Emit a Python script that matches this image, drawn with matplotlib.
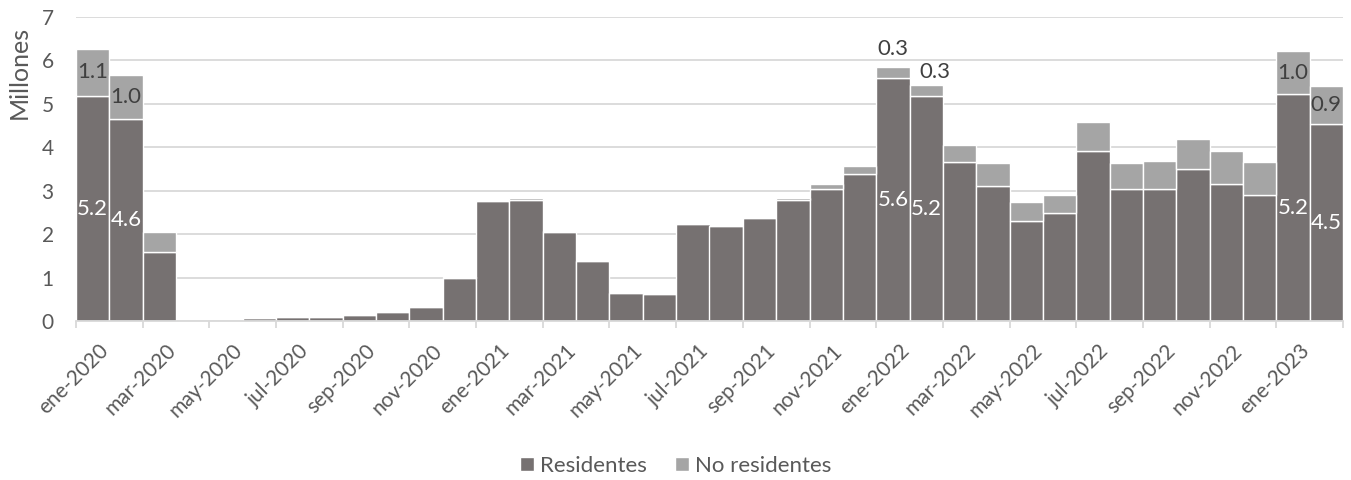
import numpy as np
import matplotlib.pyplot as plt
from matplotlib.transforms import ScaledTranslation

plt.rcParams['font.family'] = ['Lato', 'DejaVu Sans']

meses = ["ene", "feb", "mar", "abr", "may", "jun", "jul", "ago", "sep", "oct", "nov", "dic"]
periodos = [f"{m}-{a}" for a in (2020, 2021, 2022, 2023) for m in meses][:38]

residentes = [5.18, 4.64, 1.58, 0.0, 0.0, 0.06, 0.09, 0.09, 0.14, 0.20, 0.32, 0.98,
              2.77, 2.79, 2.05, 1.38, 0.65, 0.62, 2.23, 2.19, 2.37, 2.78, 3.03, 3.38,
              5.59, 5.18, 3.66, 3.12, 2.31, 2.48, 3.91, 3.05, 3.05, 3.51, 3.15, 2.90,
              5.22, 4.53]
no_residentes = [1.09, 1.03, 0.47, 0.0, 0.0, 0.0, 0.0, 0.0, 0.0, 0.0, 0.0, 0.04,
                 0.02, 0.04, 0.02, 0.0, 0.0, 0.0, 0.0, 0.0, 0.0, 0.05, 0.12, 0.19,
                 0.26, 0.26, 0.39, 0.52, 0.44, 0.43, 0.68, 0.59, 0.64, 0.68, 0.77, 0.75,
                 0.99, 0.88]

# bars that carry data labels
idx_inside = [0, 1, 36, 37]
idx_above = [24, 25]

c_res = "#767171"
c_nores = "#A5A5A5"
c_text = "#595959"
c_grid = "#D9D9D9"

fig = plt.figure(figsize=(13.51, 4.80), dpi=100)
ax = fig.add_axes([76 / 1351, 1 - 321 / 480, (1343 - 76) / 1351, (321 - 17) / 480])

x = np.arange(len(periodos))
res = np.array(residentes)
nores = np.array(no_residentes)

b1 = ax.bar(x, res, width=1.0, color=c_res, edgecolor="white", linewidth=1.0,
            label="Residentes", zorder=3)
b2 = ax.bar(x, nores, width=1.0, bottom=res, color=c_nores, edgecolor="white",
            linewidth=1.0, label="No residentes", zorder=3)

for i in idx_inside + idx_above:
    ax.text(x[i], res[i] / 2, f"{res[i]:.1f}", ha="center", va="center",
            color="white", fontsize=16, zorder=4)
for i in idx_inside:
    ax.text(x[i], res[i] + nores[i] / 2, f"{nores[i]:.1f}", ha="center", va="center",
            color="#404040", fontsize=16, zorder=4)
# the two small ones sit above the bar (moved by hand in the original)
for i, off in zip(idx_above, [(0, 6), (6, 2)]):
    ax.annotate(f"{nores[i]:.1f}", (x[i], res[i] + nores[i]), xytext=off,
                textcoords="offset points", ha="center", va="bottom",
                color="#404040", fontsize=16, zorder=4)

ax.set_xlim(-0.5, len(periodos) - 0.5)
ax.set_ylim(0, 7)
ax.set_yticks(range(0, 8))
ax.yaxis.grid(True, color=c_grid, linewidth=1.3, zorder=0)
ax.tick_params(axis="y", length=0, pad=16, labelsize=15, labelcolor=c_text)

ax.set_xticks(np.arange(-0.5, len(periodos), 2))
ax.set_xticklabels([])
ax.tick_params(axis="x", which="major", length=5, color=c_grid, width=1.3)
ax.set_xticks(x[::2], minor=True)
ax.set_xticklabels(periodos[::2], minor=True, rotation=45, ha="right",
                   va="top", rotation_mode="anchor")
ax.tick_params(axis="x", which="minor", length=0, pad=14, labelsize=15, labelcolor=c_text)
shift = ScaledTranslation(6 / 100, 0, fig.dpi_scale_trans)
for lab in ax.get_xticklabels(minor=True):
    lab.set_transform(lab.get_transform() + shift)

for s in ["left", "right", "top"]:
    ax.spines[s].set_visible(False)
ax.spines["bottom"].set_color(c_grid)
ax.spines["bottom"].set_linewidth(1.3)
ax.spines["bottom"].set_zorder(5)

fig.text(19 / 1351, 1 - 72 / 480, "Millones", rotation=90, ha="center", va="center",
         fontsize=18, color=c_text)

fig.legend(handles=[b1, b2], loc="center", bbox_to_anchor=(0.5, 1 - 466 / 480),
           ncol=2, frameon=False, fontsize=16, handlelength=0.63, handleheight=0.63,
           handletextpad=0.27, columnspacing=1.26, labelcolor=c_text, borderpad=0.1)

plt.savefig("out.png")
